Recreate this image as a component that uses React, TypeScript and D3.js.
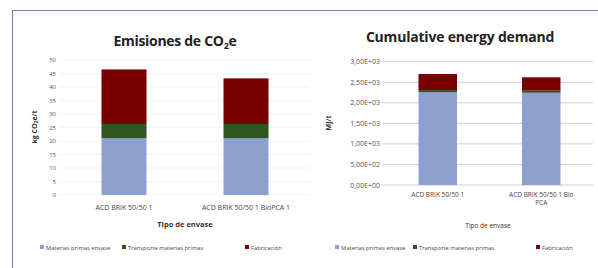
import React from "react";
import * as d3 from "d3";

const leftCategories = ["ACD BRIK 50/50 1", "ACD BRIK 50/50 1 BioPCA 1"];
const leftSeries = ["Materias primas envase", "Transporte materias primas", "Fabricación"];
const leftMaterias = [21, 21];
const leftTransporte = [5.3, 5.3];
const leftFabricacion = [20.2, 16.9];
const leftTicks = [0, 5, 10, 15, 20, 25, 30, 35, 40, 45, 50];

const rightCategories = ["ACD BRIK 50/50 1", "ACD BRIK 50/50 1 Bio PCA"];
const rightSeries = ["Materias primas envase", "Transporte materias primas", "Fabricación"];
const rightMaterias = [2260, 2245];
const rightTransporte = [50, 50];
const rightFabricacion = [390, 325];
const rightTicks = [0, 500, 1000, 1500, 2000, 2500, 3000];

const colors = ["#8D9FCE", "#2E5522", "#7A0000"];
const font = "'Open Sans', 'Liberation Sans', sans-serif";

function sciLabel(v: number) {
  const s = v.toExponential(2).replace(".", ",");
  const [m, e] = s.split("e");
  const n = parseInt(e, 10);
  return `${m}E${n < 0 ? "-" : "+"}${String(Math.abs(n)).padStart(2, "0")}`;
}

function stackRows(cats: string[], a: number[], b: number[], c: number[]) {
  return cats.map((cat, i) => ({ cat, s0: a[i], s1: b[i], s2: c[i] }));
}

export default function App() {
  const lx = d3.scaleBand().domain(leftCategories).range([63, 307]);
  const ly = d3.scaleLinear().domain([0, 50]).range([195, 60]);
  const lData = stackRows(leftCategories, leftMaterias, leftTransporte, leftFabricacion);
  const lStack = d3.stack<any>().keys(["s0", "s1", "s2"])(lData);
  const lBarW = 45;

  const rx = d3.scaleBand().domain(rightCategories).range([386, 593]);
  const ry = d3.scaleLinear().domain([0, 3000]).range([185, 61.7]);
  const rData = stackRows(rightCategories, rightMaterias, rightTransporte, rightFabricacion);
  const rStack = d3.stack<any>().keys(["s0", "s1", "s2"])(rData);
  const rBarW = 38.5;

  const leftLegendX = [40, 122, 245];
  const rightLegendX = [335, 413, 536];

  return (
    <svg width={598} height={268} style={{ position: "absolute", left: 0, top: 0, background: "#fff" }} fontFamily={font}>
      <rect x={0} y={0} width={598} height={268} fill="#fff" />
      <line x1={12.5} y1={10} x2={12.5} y2={268} stroke="#6F8DB3" strokeWidth={1.2} />
      <line x1={12} y1={10.5} x2={598} y2={10.5} stroke="#6F8DB3" strokeWidth={1.2} />

      {/* LEFT CHART */}
      <text x={175} y={46} textAnchor="middle" fontSize={14} fontWeight="bold" fill="#222" letterSpacing={-0.3}>
        Emisiones de CO<tspan fontSize={9} dy={3}>2</tspan><tspan dy={-3}>e</tspan>
      </text>
      {leftTicks.map((t) => (
        <g key={t}>
          <line x1={60} x2={310} y1={ly(t)} y2={ly(t)} stroke="#EEF1F1" strokeWidth={0.8} />
          <text x={56} y={ly(t) + 2} textAnchor="end" fontSize={6} fill="#555">{t}</text>
        </g>
      ))}
      <text transform={`translate(37,127) rotate(-90)`} textAnchor="middle" fontSize={7} fontWeight="bold" fill="#333">
        kg CO<tspan fontSize={5} dy={1}>2</tspan><tspan dy={-1}>e/t</tspan>
      </text>
      {lStack.map((layer, k) =>
        layer.map((d: any, i: number) => (
          <rect key={`l${k}-${i}`} x={(lx(d.data.cat) as number) + lx.bandwidth() / 2 - lBarW / 2}
            y={ly(d[1])} width={lBarW} height={ly(d[0]) - ly(d[1])} fill={colors[k]} />
        ))
      )}
      {leftCategories.map((c) => (
        <text key={c} x={(lx(c) as number) + lx.bandwidth() / 2} y={210} textAnchor="middle" fontSize={7} fill="#444">{c}</text>
      ))}
      <text x={185} y={227} textAnchor="middle" fontSize={7.5} fontWeight="bold" fill="#333">Tipo de envase</text>
      {leftSeries.map((s, i) => (
        <g key={s}>
          <rect x={leftLegendX[i]} y={245} width={4} height={4} fill={colors[i]} />
          <text x={leftLegendX[i] + 6} y={249.5} fontSize={5.8} fill="#444">{s}</text>
        </g>
      ))}

      {/* RIGHT CHART */}
      <text x={460} y={42} textAnchor="middle" fontSize={14} fontWeight="bold" fill="#222" letterSpacing={-0.2}>Cumulative energy demand</text>
      {rightTicks.map((t) => (
        <g key={t}>
          <line x1={382} x2={593} y1={ry(t)} y2={ry(t)} stroke="#BFC4C8" strokeWidth={0.8} />
          <text x={380} y={ry(t) + 2.5} textAnchor="end" fontSize={7} fill="#555">{sciLabel(t)}</text>
        </g>
      ))}
      <text transform={`translate(331,123) rotate(-90)`} textAnchor="middle" fontSize={7} fontWeight="bold" fill="#333">MJ/t</text>
      {rStack.map((layer, k) =>
        layer.map((d: any, i: number) => (
          <rect key={`r${k}-${i}`} x={(rx(d.data.cat) as number) + rx.bandwidth() / 2 - rBarW / 2}
            y={ry(d[1])} width={rBarW} height={ry(d[0]) - ry(d[1])} fill={colors[k]} />
        ))
      )}
      {rightCategories.map((c, i) => {
        const cx = (rx(c) as number) + rx.bandwidth() / 2;
        if (i === 0) {
          return <text key={c} x={cx} y={197} textAnchor="middle" fontSize={6.5} fill="#444">{c}</text>;
        }
        return (
          <text key={c} x={cx} y={197} textAnchor="middle" fontSize={6.5} fill="#444">
            <tspan x={cx}>ACD BRIK 50/50 1 Bio</tspan>
            <tspan x={cx} dy={8}>PCA</tspan>
          </text>
        );
      })}
      <text x={488} y={228} textAnchor="middle" fontSize={6.5} fill="#333">Tipo de envase</text>
      {rightSeries.map((s, i) => (
        <g key={s}>
          <rect x={rightLegendX[i]} y={245} width={4} height={4} fill={colors[i]} />
          <text x={rightLegendX[i] + 6} y={249.5} fontSize={5.8} fill="#444">{s}</text>
        </g>
      ))}
    </svg>
  );
}
